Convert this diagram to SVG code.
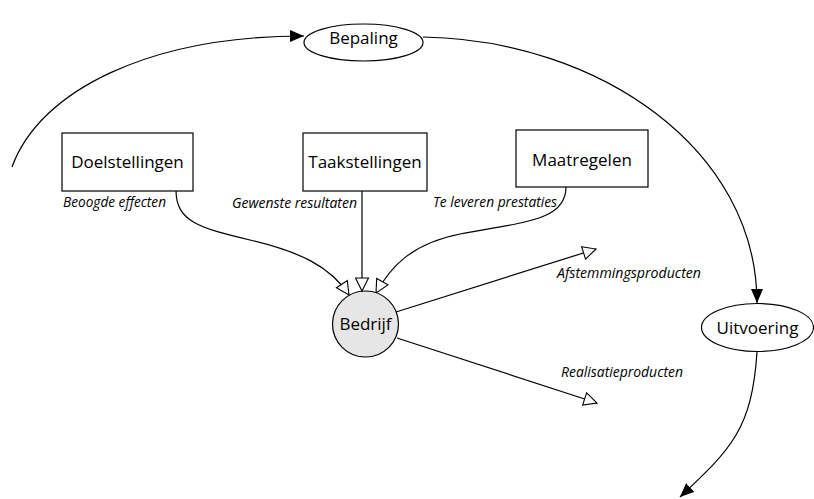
<svg xmlns="http://www.w3.org/2000/svg" width="814" height="499" viewBox="0 0 814 499">
  <style>
    .box { fill: #ffffff; stroke: #000000; stroke-width: 1.2; }
    .oval { fill: #ffffff; stroke: #000000; stroke-width: 1.2; }
    .hub { fill: #e6e6e6; stroke: #000000; stroke-width: 1.2; }
    .lbl { font-family: "Open Sans", "DejaVu Sans", sans-serif; font-size: 17px; fill: #000000; text-anchor: middle; }
    .note { font-family: "Open Sans", "DejaVu Sans", sans-serif; font-size: 14px; font-style: italic; fill: #000000; }
    .wire { fill: none; stroke: #000000; stroke-width: 1.2; }
    .solid { marker-end: url(#solidHead); }
    .hollow { marker-end: url(#hollowHead); }
  </style>
  <defs>
    <marker id="solidHead" viewBox="0 0 14 12" refX="14" refY="6" markerWidth="14" markerHeight="12" markerUnits="userSpaceOnUse" orient="auto">
      <path d="M0,0 L14,6 L0,12 Z" fill="#000000"/>
    </marker>
    <marker id="hollowHead" viewBox="-1 -1 15 15" refX="13" refY="6.5" markerWidth="15" markerHeight="15" markerUnits="userSpaceOnUse" orient="auto">
      <path d="M0,0 L13,6.5 L0,13 Z" fill="#ffffff" stroke="#000000" stroke-width="1.1"/>
    </marker>
  </defs>

  <!-- connectors -->
  <g id="connectors">
    <path class="wire solid" d="M12,167 C40,90 150,36 304,36"/>
    <path class="wire solid" d="M423,37 C600,40 757,150 757,303"/>
    <path class="wire solid" d="M757,352 C752,430 730,450 680,497"/>
    <path class="wire hollow" d="M176,190 C176,222 200,228 250,240 C300,252 330,266 349,295"/>
    <path class="wire hollow" d="M362,191 L362,291"/>
    <path class="wire hollow" d="M566,187 C566,222 520,222 460,234 C410,244 390,268 376,293"/>
    <path class="wire hollow" d="M396,312 L596,249"/>
    <path class="wire hollow" d="M397,338 L597,403"/>
  </g>

  <!-- connector labels -->
  <g id="labels">
    <text class="note" x="63" y="207" textLength="103" lengthAdjust="spacingAndGlyphs">Beoogde effecten</text>
    <text class="note" x="232" y="208" textLength="125" lengthAdjust="spacingAndGlyphs">Gewenste resultaten</text>
    <text class="note" x="433" y="207" textLength="124" lengthAdjust="spacingAndGlyphs">Te leveren prestaties</text>
    <text class="note" x="557" y="278" textLength="144" lengthAdjust="spacingAndGlyphs">Afstemmingsproducten</text>
    <text class="note" x="561" y="377" textLength="122" lengthAdjust="spacingAndGlyphs">Realisatieproducten</text>
  </g>

  <g id="bepaling">
    <ellipse class="oval" cx="363.5" cy="42.5" rx="59.5" ry="18.5"/>
    <text class="lbl" x="363.5" y="44">Bepaling</text>
  </g>

  <g id="doelstellingen">
    <rect class="box" x="62" y="133" width="131" height="58"/>
    <text class="lbl" x="127.5" y="168">Doelstellingen</text>
  </g>

  <g id="taakstellingen">
    <rect class="box" x="303" y="133" width="124" height="58"/>
    <text class="lbl" x="365" y="168">Taakstellingen</text>
  </g>

  <g id="maatregelen">
    <rect class="box" x="516" y="130" width="132" height="57"/>
    <text class="lbl" x="582" y="166">Maatregelen</text>
  </g>

  <g id="bedrijf">
    <circle class="hub" cx="365.5" cy="324" r="33"/>
    <text class="lbl" x="365.5" y="330">Bedrijf</text>
  </g>

  <g id="uitvoering">
    <ellipse class="oval" cx="757.5" cy="327.5" rx="56" ry="24"/>
    <text class="lbl" x="757.5" y="334">Uitvoering</text>
  </g>
</svg>
